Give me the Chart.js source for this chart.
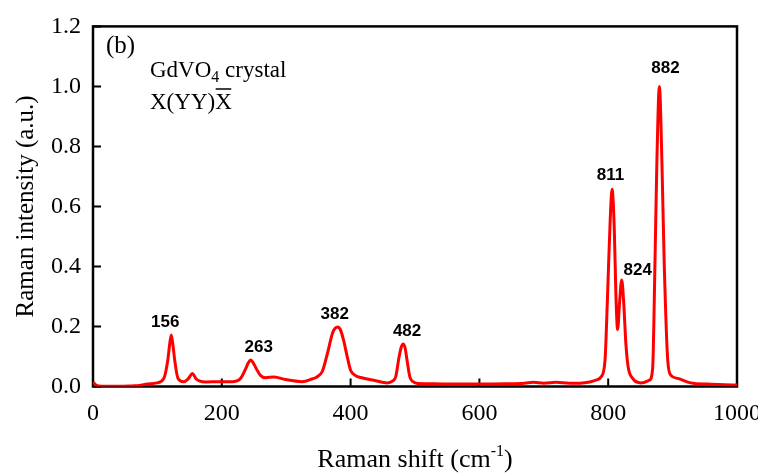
<!DOCTYPE html>
<html>
<head>
<meta charset="utf-8">
<script src="https://cdn.jsdelivr.net/npm/chart.js@4.4.1/dist/chart.umd.min.js"></script>
<style>
  html, body { margin: 0; padding: 0; background: #fff; }
  canvas { display: block; }
</style>
</head>
<body>
<canvas id="ramanChart" width="758" height="474"></canvas>
<script>
// Raman spectrum of GdVO4, X(YY)X-bar geometry
const shift = [0, 4, 9, 20, 40, 60, 72, 84, 99, 110, 116, 119, 121.5, 124, 127, 132, 141, 148, 154.5, 160, 165, 175, 195,
    216, 229, 237, 241, 245, 249, 253, 260, 268, 281, 299, 325, 340, 347, 356, 364, 372, 376, 380, 384, 389, 395, 400,
    408, 416, 436, 457, 465, 470, 475, 478.5, 481.5, 484.5, 487, 492, 497, 504, 530, 560, 600, 640, 670, 684, 700, 719,
    740, 760, 773, 782, 789, 795, 799, 803, 806, 809.5, 812, 814.6, 817.7, 821, 824, 827.5, 831, 838, 851, 864, 869,
    872.6, 875.5, 879.5, 883.5, 887, 892.5, 897.5, 908, 928, 955, 980, 1000];
const intensity = [0.014, 0.006, 0.002, 0.001, 0.001, 0.002, 0.003, 0.008, 0.012, 0.027, 0.086, 0.14, 0.172, 0.14, 0.086,
    0.027, 0.016, 0.026, 0.043, 0.026, 0.019, 0.015, 0.016,
    0.016, 0.027, 0.059, 0.078, 0.088, 0.078, 0.062, 0.037, 0.029, 0.032, 0.023, 0.016, 0.025, 0.031, 0.05, 0.11, 0.178,
    0.194, 0.198, 0.19, 0.155, 0.097, 0.054,
    0.036, 0.03, 0.021, 0.012, 0.018, 0.032, 0.095, 0.13, 0.142, 0.13, 0.097, 0.032, 0.016, 0.01, 0.009, 0.008, 0.008,
    0.009, 0.011, 0.014, 0.011, 0.014,
    0.011, 0.012, 0.016, 0.022, 0.032, 0.086, 0.304, 0.55, 0.657, 0.521, 0.304, 0.19, 0.282, 0.355, 0.282, 0.141, 0.065,
    0.027, 0.012, 0.021, 0.06,
    0.41, 0.74, 1.0, 0.74, 0.41, 0.086, 0.037, 0.027, 0.012, 0.008, 0.006, 0.005];

const xTicks = [0, 200, 400, 600, 800, 1000];
const yTicks = [0, 0.2, 0.4, 0.6, 0.8, 1.0, 1.2];

// labelled bands and where they sit in the spectrum
const peakNames = ['156', '263', '382', '482', '811', '824', '882'];
const peakShift = [121.5, 245, 380, 481.5, 806, 821, 879.5];

const serif = '"Liberation Serif", "Times New Roman", serif';

// frame round the plot plus inward tick marks
const framePlugin = {
    id: 'frame',
    beforeDatasetsDraw(chart) {
        const { ctx, chartArea: a, scales } = chart;
        ctx.save();
        ctx.strokeStyle = '#000';
        ctx.lineWidth = 2.5;
        ctx.strokeRect(a.left, a.top, a.right - a.left, a.bottom - a.top);
        ctx.lineWidth = 2;
        ctx.beginPath();
        xTicks.forEach(v => {
            const px = scales.x.getPixelForValue(v);
            ctx.moveTo(px, a.bottom);
            ctx.lineTo(px, a.bottom - 8);
        });
        yTicks.forEach(v => {
            const py = scales.y.getPixelForValue(v);
            ctx.moveTo(a.left, py);
            ctx.lineTo(a.left + 8, py);
        });
        ctx.stroke();
        ctx.restore();
    }
};

// peak labels, sample caption and x-axis title with superscript
const textPlugin = {
    id: 'texts',
    afterDatasetsDraw(chart) {
        const { ctx, chartArea: a, scales } = chart;
        const nudgeX = [-6, 8, -3, 4, -1.5, 16, 6];
        const gap = [8, 8, 8, 8, 9, 5, 13];
        ctx.save();
        ctx.fillStyle = '#000';
        ctx.textAlign = 'center';
        ctx.textBaseline = 'alphabetic';
        ctx.font = 'bold 17px "Liberation Sans", Arial, sans-serif';
        peakNames.forEach((name, i) => {
            const k = shift.indexOf(peakShift[i]);
            const px = scales.x.getPixelForValue(shift[k]);
            const py = scales.y.getPixelForValue(intensity[k]);
            ctx.fillText(name, px + nudgeX[i], py - gap[i]);
        });

        ctx.textAlign = 'left';
        ctx.font = '25px ' + serif;
        ctx.fillText('(b)', 106, 53);

        ctx.font = '23px ' + serif;
        let x = 150;
        ctx.fillText('GdVO', x, 77);
        x += ctx.measureText('GdVO').width;
        ctx.font = '16px ' + serif;
        ctx.fillText('4', x, 82);
        x += ctx.measureText('4').width;
        ctx.font = '23px ' + serif;
        ctx.fillText(' crystal', x, 77);

        x = 150;
        ctx.fillText('X(YY)', x, 109);
        x += ctx.measureText('X(YY)').width;
        const wX = ctx.measureText('X').width;
        ctx.fillText('X', x, 109);
        ctx.lineWidth = 1.5;
        ctx.beginPath();
        ctx.moveTo(x + 0.5, 89);
        ctx.lineTo(x + wX - 0.5, 89);
        ctx.stroke();

        // x-axis title
        ctx.font = '26px ' + serif;
        const main = 'Raman shift (cm';
        const wMain = ctx.measureText(main).width;
        ctx.font = '16px ' + serif;
        const wSup = ctx.measureText('-1').width;
        ctx.font = '26px ' + serif;
        const wEnd = ctx.measureText(')').width;
        let tx = (a.left + a.right) / 2 - (wMain + wSup + wEnd) / 2;
        ctx.fillText(main, tx, 467);
        tx += wMain;
        ctx.font = '16px ' + serif;
        ctx.fillText('-1', tx, 456);
        tx += wSup;
        ctx.font = '26px ' + serif;
        ctx.fillText(')', tx, 467);
        ctx.restore();
    }
};

document.addEventListener('DOMContentLoaded', function() {
    const ramanCtx = document.getElementById('ramanChart').getContext('2d');

    new Chart(ramanCtx, {
        type: 'line',
        data: {
            datasets: [{
                label: 'GdVO4 crystal',
                data: shift.map((s, i) => ({ x: s, y: intensity[i] })),
                borderColor: '#ff0000',
                borderWidth: 3,
                pointRadius: 0,
                fill: false,
                cubicInterpolationMode: 'monotone'
            }]
        },
        options: {
            responsive: false,
            animation: false,
            layout: {
                padding: { left: 0, right: 21, top: 18, bottom: 0 }
            },
            scales: {
                x: {
                    type: 'linear',
                    min: 0,
                    max: 1000,
                    afterBuildTicks: scale => { scale.ticks = xTicks.map(v => ({ value: v })); },
                    afterFit: scale => {
                        scale.height = 87.5;
                        scale.paddingLeft = 0;
                        scale.paddingRight = 0;
                    },
                    grid: { display: false, drawTicks: false },
                    border: { display: false },
                    ticks: {
                        padding: 13,
                        maxRotation: 0,
                        color: '#000',
                        font: { family: serif, size: 24 },
                        callback: v => String(v)
                    }
                },
                y: {
                    min: 0,
                    max: 1.2,
                    afterBuildTicks: scale => { scale.ticks = yTicks.map(v => ({ value: v })); },
                    afterFit: scale => { scale.width = 93; },
                    grid: { display: false, drawTicks: false },
                    border: { display: false },
                    ticks: {
                        padding: 12,
                        color: '#000',
                        font: { family: serif, size: 24 },
                        callback: v => v.toFixed(1)
                    },
                    title: {
                        display: true,
                        text: 'Raman intensity (a.u.)',
                        color: '#000',
                        font: { family: serif, size: 25 },
                        padding: { top: 11, bottom: 0 }
                    }
                }
            },
            plugins: {
                legend: { display: false },
                tooltip: { enabled: false }
            }
        },
        plugins: [framePlugin, textPlugin]
    });
});
</script>
</body>
</html>
